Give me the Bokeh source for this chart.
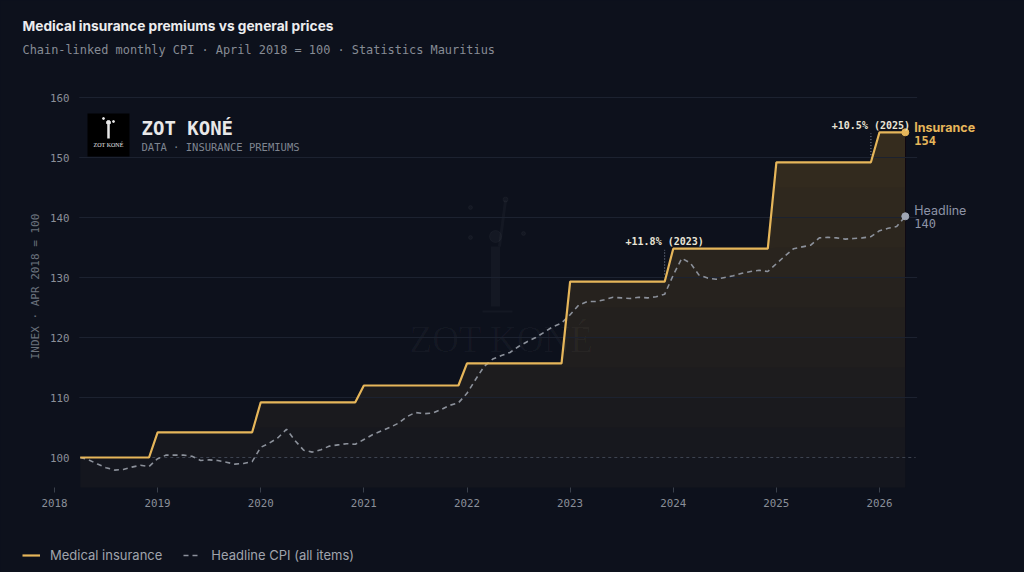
import numpy as np
from bokeh.plotting import figure
from bokeh.models import FixedTicker, Legend, LegendItem, Range1d
from bokeh.embed import file_html
from bokeh.resources import INLINE

# ---------------- data ----------------
start_year = 2018
start_month = 4  # April 2018 = 100

# Medical insurance premium index (monthly)
insurance = [
    100.0, 100.0, 100.0, 100.0, 100.0, 100.0, 100.0, 100.0, 100.0,
    104.2, 104.2, 104.2, 104.2, 104.2, 104.2, 104.2, 104.2, 104.2, 104.2, 104.2, 104.2,
    109.2, 109.2, 109.2, 109.2, 109.2, 109.2, 109.2, 109.2, 109.2, 109.2, 109.2, 109.2,
    112.0, 112.0, 112.0, 112.0, 112.0, 112.0, 112.0, 112.0, 112.0, 112.0, 112.0, 112.0,
    115.7, 115.7, 115.7, 115.7, 115.7, 115.7, 115.7, 115.7, 115.7, 115.7, 115.7, 115.7,
    129.3, 129.3, 129.3, 129.3, 129.3, 129.3, 129.3, 129.3, 129.3, 129.3, 129.3, 129.3,
    134.8, 134.8, 134.8, 134.8, 134.8, 134.8, 134.8, 134.8, 134.8, 134.8, 134.8, 134.8,
    149.2, 149.2, 149.2, 149.2, 149.2, 149.2, 149.2, 149.2, 149.2, 149.2, 149.2, 149.2,
    154.2, 154.2, 154.2, 154.2,
]

# Headline CPI, all items (monthly)
headline = [
    100.0, 99.6, 98.9, 98.3, 97.9, 98.0, 98.4, 98.7, 98.5, 99.8, 100.4, 100.4,
    100.4, 100.2, 99.5, 99.6, 99.5, 99.2, 98.9, 99.0, 99.3, 101.7, 102.4, 103.3,
    104.7, 102.8, 101.2, 100.9, 101.3, 101.9, 102.1, 102.3, 102.2, 103.0, 103.8, 104.4,
    105.0, 105.7, 106.8, 107.5, 107.3, 107.4, 108.0, 108.7, 109.1, 110.7, 113.0, 115.2,
    116.4, 117.0, 117.5, 118.5, 119.3, 120.0, 120.9, 121.8, 122.4, 123.8, 125.4, 126.0,
    126.0, 126.3, 126.7, 126.6, 126.5, 126.7, 126.6, 126.8, 127.2, 130.4, 133.2, 132.4,
    130.4, 129.9, 129.7, 130.0, 130.3, 130.7, 131.0, 131.2, 131.0, 132.3, 133.6, 134.8,
    135.1, 135.4, 136.6, 136.7, 136.6, 136.4, 136.5, 136.6, 136.8, 137.8, 138.2, 138.5,
    140.2,
]

year_ticks = [2018, 2019, 2020, 2021, 2022, 2023, 2024, 2025, 2026]
index_ticks = [100, 110, 120, 130, 140, 150, 160]
base_value = 100

annotation_texts = ["+11.8% (2023)", "+10.5% (2025)"]
annotation_months = [(2023, 12), (2025, 12)]

title_text = "Medical insurance premiums vs general prices"
subtitle_text = "Chain-linked monthly CPI · April 2018 = 100 · Statistics Mauritius"

# ---------------- style ----------------
BG = "#0d111c"
GOLD = "#e6b65a"
GREY = "#8c919b"
MONO = "DejaVu Sans Mono"
SANS = "Inter"
W, H = 1024, 572

PX_PER_YEAR = 103.125
PX_PER_UNIT = 6.0


def dx(px):
    return 2018 + (px - 54) / PX_PER_YEAR


def dy(py):
    return 160 - (py - 97) / PX_PER_UNIT


x = [start_year + (start_month - 1 + i) / 12 for i in range(len(insurance))]
ins = np.array(insurance)

p = figure(width=W, height=H, output_backend="svg", toolbar_location=None,
           x_range=Range1d(dx(0), dx(W)), y_range=Range1d(dy(H), dy(0)),
           min_border=0, background_fill_color=BG, border_fill_color=BG,
           outline_line_color=None)
p.title.visible = False
p.grid.visible = False

# ---- titles ----
p.text(x=[dx(22)], y=[dy(25)], text=[title_text], text_font={"value": SANS},
       text_font_size="13.7px", text_font_style="bold", text_color="#ececee",
       text_baseline="middle")
p.text(x=[dx(22)], y=[dy(49)], text=[subtitle_text], text_font={"value": MONO},
       text_font_size="11.9px", text_color="#878c95", text_baseline="middle")

# ---- watermark ----
wm = "#ffffff"
p.text(x=[dx(501)], y=[dy(339)], text=["ZOT KONÉ"], text_font={"value": "Liberation Serif"},
       text_font_size="37px", text_align="center", text_baseline="middle",
       text_color=wm, text_alpha=0.03)
p.segment(x0=[dx(495), dx(499), dx(482)], y0=[dy(246), dy(246), dy(311)],
          x1=[dx(495), dx(505), dx(512)], y1=[dy(306), dy(200), dy(311)],
          line_color=wm, line_alpha=0.03, line_width=[9, 3, 2])
p.scatter(x=[dx(495), dx(470), dx(523), dx(470), dx(505)],
          y=[dy(236), dy(207), dy(233), dy(237), dy(199)],
          size=[12, 4, 4, 4, 5], color=wm, alpha=0.03)

# ---- gradient fill under insurance ----
levels = np.arange(95, 157, 5.0)
for i, lvl in enumerate(levels):
    a = 0.035 if i == 0 else 0.014
    p.varea(x=x, y1=np.minimum(ins, lvl), y2=ins, fill_color=GOLD, fill_alpha=a)

# ---- grid lines ----
grid_y = index_ticks[1:]
p.segment(x0=x[0] - 0.01, x1=x[-1] + 0.115, y0=grid_y, y1=grid_y,
          line_color="#1c2230", line_width=1)
p.line(x=[x[0], x[-1] + 0.1], y=[base_value, base_value], line_color="#3d4350",
       line_width=1, line_dash="3 3")

# ---- series ----
cpi_r = p.line(x, headline, line_color=GREY, line_width=1.6, line_dash="5 4")
ins_r = p.line(x, insurance, line_color=GOLD, line_width=2.2)
p.scatter([x[-1]], [insurance[-1]], size=7, color=GOLD)
p.scatter([x[-1]], [headline[-1]], size=7, color="#a0a6b4")

# ---- annotations ----
for txt, (yr, mo) in zip(annotation_texts, annotation_months):
    i = (yr - start_year) * 12 + mo - start_month
    lower, upper = insurance[i], insurance[i + 1]
    p.segment(x0=[x[i]], x1=[x[i]], y0=[lower + 1.2], y1=[upper - 0.2],
              line_color="#8a93a6", line_width=1, line_dash="1 2")
    p.text(x=[x[i]], y=[upper + 1.15], text=[txt], text_font={"value": MONO},
           text_font_size="10px", text_font_style="bold", text_color="#e9e4d6",
           text_align="center", text_baseline="middle")

# ---- end labels ----
p.text(x=[x[-1]], y=[insurance[-1]], text=["Insurance"], x_offset=9, y_offset=-5,
       text_font={"value": SANS}, text_font_size="12.5px", text_font_style="bold",
       text_color=GOLD, text_baseline="middle")
p.text(x=[x[-1]], y=[insurance[-1]], text=[f"{insurance[-1]:.0f}"], x_offset=9, y_offset=8,
       text_font={"value": MONO}, text_font_size="12px", text_font_style="bold",
       text_color=GOLD, text_baseline="middle")
p.text(x=[x[-1]], y=[headline[-1]], text=["Headline"], x_offset=9, y_offset=-6,
       text_font={"value": SANS}, text_font_size="12.5px",
       text_color="#8d94a6", text_baseline="middle")
p.text(x=[x[-1]], y=[headline[-1]], text=[f"{headline[-1]:.0f}"], x_offset=9, y_offset=7,
       text_font={"value": MONO}, text_font_size="12px",
       text_color="#8d94a6", text_baseline="middle")

# ---- brand block ----
p.rect(x=[dx(108)], y=[dy(134.5)], width=42, height=43, width_units="screen",
       height_units="screen", fill_color="#000000", line_color=None)
p.segment(x0=[dx(108)], x1=[dx(108)], y0=[dy(124)], y1=[dy(138)], line_color="#e8e8e8",
          line_width=2.5)
p.scatter(x=[dx(108), dx(103), dx(113)], y=[dy(122), dy(118), dy(121)], size=[4, 2, 2],
          color="#e8e8e8")
p.text(x=[dx(108)], y=[dy(144.5)], text=["ZOT KONÉ"], text_font={"value": "Liberation Serif"},
       text_font_size="6px", text_color="#e8e8e8", text_align="center", text_baseline="middle")
p.text(x=[dx(141)], y=[dy(127)], text=["ZOT KONÉ"], text_font={"value": MONO},
       text_font_size="19px", text_font_style="bold", text_color="#e8e8e8",
       text_baseline="middle")
p.text(x=[dx(141)], y=[dy(146)], text=["DATA · INSURANCE PREMIUMS"], text_font={"value": MONO},
       text_font_size="10.5px", text_color="#7f8590", text_baseline="middle")

# ---- axes (placed inside the full-canvas frame) ----
xax = p.xaxis[0]
xax.fixed_location = dy(487)
xax.ticker = FixedTicker(ticks=year_ticks)
xax.major_label_overrides = {y: str(y) for y in year_ticks}
xax.axis_line_color = None
xax.minor_tick_line_color = None
xax.major_tick_line_color = "#3a404b"
xax.major_tick_out = 5
xax.major_tick_in = 0
xax.major_label_standoff = 6
xax.major_label_text_font = MONO
xax.major_label_text_font_size = "10.8px"
xax.major_label_text_color = "#8a8f99"

yax = p.yaxis[0]
yax.fixed_location = dx(76)
yax.ticker = FixedTicker(ticks=index_ticks)
yax.axis_line_color = None
yax.minor_tick_line_color = None
yax.major_tick_line_color = None
yax.major_tick_out = 0
yax.major_tick_in = 0
yax.major_label_standoff = 7
yax.major_label_text_font = MONO
yax.major_label_text_font_size = "10.8px"
yax.major_label_text_color = "#8a8f99"
yax.axis_label = "INDEX · APR 2018 = 100"
yax.axis_label_standoff = 5
yax.axis_label_text_font = MONO
yax.axis_label_text_font_size = "11px"
yax.axis_label_text_font_style = "normal"
yax.axis_label_text_color = "#6b717c"

# ---- legend ----
legend = Legend(items=[LegendItem(label="Medical insurance", renderers=[ins_r]),
                       LegendItem(label="Headline CPI (all items)", renderers=[cpi_r])],
                orientation="horizontal", location=(22, 9),
                background_fill_alpha=0, border_line_color=None,
                label_text_font=SANS, label_text_font_size="13px", label_text_color="#a0a4ac",
                glyph_width=18, glyph_height=14, label_height=14, label_standoff=10,
                spacing=21, padding=0, margin=0)
p.add_layout(legend, "center")

html = file_html(p, INLINE)
html = html.replace("<head>", "<head><style>html,body{background:#0d111c;}</style>", 1)
open("out.html", "w").write(html)
